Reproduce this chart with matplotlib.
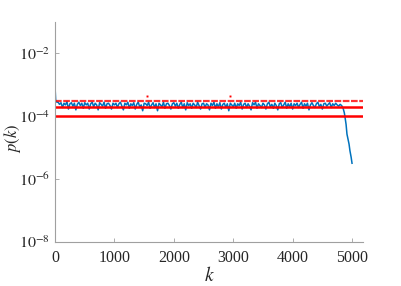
import numpy as np
import matplotlib
matplotlib.use("Agg")
import matplotlib.pyplot as plt

plt.rcParams['font.family'] = ['Liberation Serif', 'DejaVu Serif']
plt.rcParams['mathtext.fontset'] = 'stix'

# blue series, values in units of 1e-4
k_start = [1, 5, 10, 20, 35]
p_start = [7.5, 4.8, 3.3, 2.9, 2.8]

p_mid = [
    2.8, 2.4, 2.7, 1.9, 2.6, 2.3, 2.9, 1.7, 2.5, 2.7, 2.1, 2.6, 1.6, 2.4, 2.8, 2.2, 2.6, 1.8, 2.7, 2.3,
    2.6, 1.7, 2.5, 2.8, 2.0, 2.6, 2.3, 1.6, 2.7, 2.4, 2.1, 2.8, 1.8, 2.5, 2.6, 2.2, 1.7, 2.6, 2.3,
    2.6, 1.9, 2.5, 2.8, 2.1, 1.6, 2.6, 2.3, 2.8, 1.8, 2.5, 2.2, 2.7, 1.7, 2.4, 2.8, 2.0, 2.3, 1.5, 2.6,
    2.5, 2.2, 2.8, 1.8, 2.3, 2.7, 1.9, 2.5, 1.5, 2.6, 2.3, 2.0, 2.8, 1.8, 2.5, 2.6, 2.2, 1.7, 2.5, 2.7,
    2.1, 2.6, 1.8, 2.4, 2.8, 1.9, 2.5, 1.6, 2.7, 2.2, 2.5, 1.8, 2.6, 2.3, 1.9, 2.8, 2.2, 1.7, 2.5, 2.6,
    1.9, 2.5, 2.3, 1.6, 2.6, 2.2, 2.8, 1.8, 2.5, 2.0, 2.7, 1.7, 2.4, 2.6, 1.9, 2.5, 1.5, 2.6, 2.3, 2.0,
    2.6, 1.8, 2.5, 2.2, 2.8, 1.7, 2.4, 2.6, 1.9, 2.5, 2.1, 1.6, 2.7, 2.3, 2.8, 1.8, 2.5, 2.2, 1.9, 2.6,
    2.3, 1.7, 2.5, 2.8, 2.0, 2.4, 1.8, 2.6, 2.2, 1.6, 2.5, 2.7, 1.9, 2.3, 2.8, 1.8, 2.5, 2.0, 2.6, 1.7,
    2.5, 2.2, 2.6, 1.9, 2.4, 2.8, 1.8, 2.5, 2.1, 2.6, 1.6, 2.3, 2.7, 2.2, 1.9, 2.5, 2.8, 2.0, 2.4, 1.7,
    2.5, 2.6, 2.1, 2.4, 2.7, 1.9, 2.5, 2.2, 2.6, 2.3, 2.1, 2.4,
]
k_mid = list(range(50, 4801, 25))

k_tail = [4825, 4850, 4870, 4880, 4900, 4915, 4930, 4950, 4965, 4985, 5000]
p_tail = [2.2, 1.8, 1.3, 1.0, 0.55, 0.27, 0.2, 0.13, 0.08, 0.05, 0.032]

k = np.array(k_start + k_mid + k_tail)
p = np.array(p_start + p_mid + p_tail) * 1e-4

# reference levels and stray red points
levels = [1e-4, 2e-4, 3e-4]
stray_k = [1550, 2950]
stray_p = [4.3e-4, 4.3e-4]
x_end = 5185

fig = plt.figure(figsize=(4.02, 2.86), dpi=100)
ax = fig.add_axes([0.137, 0.154, 0.766, 0.769])

ax.plot(k, p, color='#0072BD', lw=1.1)
ax.plot([0, x_end], [levels[0]] * 2, color='red', lw=1.8)
ax.plot([0, x_end], [levels[1]] * 2, color='red', lw=1.8)
ax.plot([0, x_end], [levels[2]] * 2, color='red', lw=1.6, ls=(0, (3, 0.7)), alpha=0.8)
ax.plot(stray_k, stray_p, 's', color='red', ms=1.4, mew=0)

ax.set_yscale('log')
ax.set_xlim(0, x_end)
ax.set_ylim(1e-8, 1e-1)
ax.set_xticks([0, 1000, 2000, 3000, 4000, 5000])
ax.set_yticks([1e-8, 1e-6, 1e-4, 1e-2])
ax.set_yticklabels(['$10^{-8}$', '$10^{-6}$', '$10^{-4}$', '$10^{-2}$'])
ax.minorticks_off()

for s in ['top', 'right']:
    ax.spines[s].set_visible(False)
for s in ['left', 'bottom']:
    ax.spines[s].set_color('#a0a0a0')
    ax.spines[s].set_linewidth(0.8)
ax.tick_params(direction='in', length=3, width=0.6, color='#a0a0a0',
               labelcolor='#262626', labelsize=11.5)
ax.tick_params(axis='x', pad=6)

ax.set_xlabel('$k$', fontsize=14, color='#262626', labelpad=0)
ax.set_ylabel('$p(k)$', fontsize=12, color='#262626')
ax.yaxis.set_label_coords(-0.105, 0.47)

fig.savefig('out.png', dpi=100)
